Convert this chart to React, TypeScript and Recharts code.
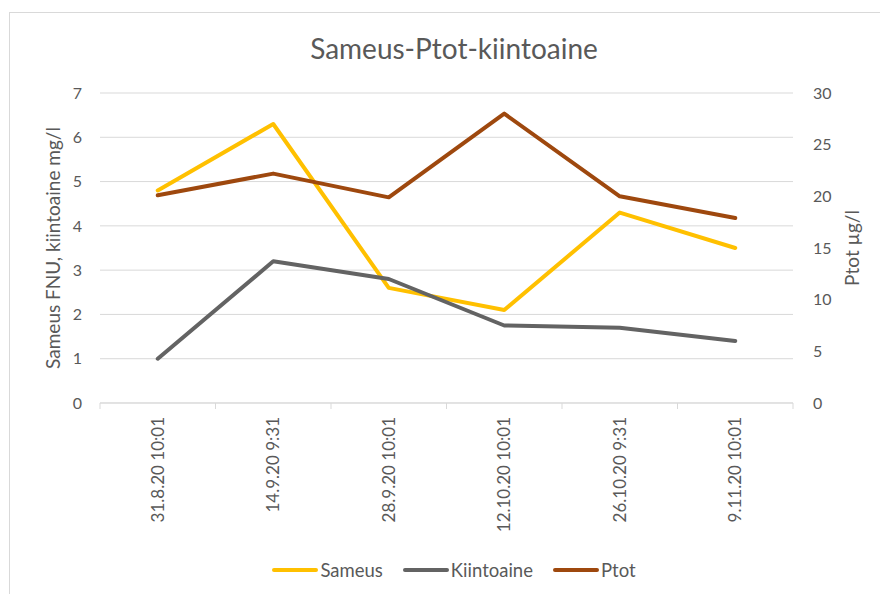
import React from "react";
import { LineChart, Line, XAxis, YAxis, CartesianGrid } from "recharts";

const dates = [
  "31.8.20 10:01",
  "14.9.20 9:31",
  "28.9.20 10:01",
  "12.10.20 10:01",
  "26.10.20 9:31",
  "9.11.20 10:01",
];
const sameus = [4.8, 6.3, 2.6, 2.1, 4.3, 3.5];
const kiintoaine = [1.0, 3.2, 2.8, 1.75, 1.7, 1.4];
const ptot = [20.1, 22.2, 19.9, 28.0, 20.0, 17.9];
const leftTicks = [0, 1, 2, 3, 4, 5, 6, 7];
const rightTicks = [0, 5, 10, 15, 20, 25, 30];

const series = [
  { key: "sameus", name: "Sameus", color: "#FFC000", axis: "left" },
  { key: "kiintoaine", name: "Kiintoaine", color: "#636363", axis: "left" },
  { key: "ptot", name: "Ptot", color: "#9E480E", axis: "right" },
];

const data = dates.map((d, i) => ({
  date: d,
  sameus: sameus[i],
  kiintoaine: kiintoaine[i],
  ptot: ptot[i],
}));

const FONT = "Lato, 'Open Sans', sans-serif";
const TEXT = "#595959";
const GRID = "#d9d9d9";

function DateTick(props: any) {
  const { x, y, payload, index } = props;
  const half = payload.offset || 57.5;
  return (
    <g>
      <line x1={x - half} x2={x - half} y1={y} y2={y + 6} stroke={GRID} />
      {index === dates.length - 1 && (
        <line x1={x + half} x2={x + half} y1={y} y2={y + 6} stroke={GRID} />
      )}
      <text
        transform={`translate(${x},${y + 14}) rotate(-90)`}
        textAnchor="end"
        dy="0.35em"
        fill={TEXT}
        fontSize={17}
        fontFamily={FONT}
      >
        {payload.value}
      </text>
    </g>
  );
}

export default function App() {
  return (
    <div
      style={{
        position: "fixed",
        left: 0,
        top: 0,
        width: 880,
        height: 594,
        overflow: "hidden",
        background: "#fff",
        fontFamily: FONT,
      }}
    >
      <div
        style={{
          position: "absolute",
          left: 9,
          top: 12,
          width: 880,
          height: 600,
          border: `1px solid ${GRID}`,
        }}
      >
        <div
          style={{
            position: "absolute",
            left: 0,
            top: 18,
            width: 888,
            textAlign: "center",
            fontSize: 28,
            lineHeight: "34px",
            color: TEXT,
          }}
        >
          Sameus-Ptot-kiintoaine
        </div>
        <LineChart
          width={871}
          height={581}
          data={data}
          margin={{ top: 80, right: 0, left: 0, bottom: 61 }}
        >
          <CartesianGrid yAxisId="left" vertical={false} stroke={GRID} />
          <XAxis
            dataKey="date"
            scale="band"
            height={130}
            interval={0}
            tickLine={false}
            tickSize={0}
            tickMargin={0}
            axisLine={{ stroke: GRID }}
            tick={<DateTick />}
          />
          <YAxis
            yAxisId="left"
            width={90}
            domain={[0, 7]}
            ticks={leftTicks}
            axisLine={false}
            tickLine={false}
            tickMargin={12}
            tick={{ fill: TEXT, fontSize: 16, fontFamily: FONT }}
            label={{
              value: "Sameus FNU, kiintoaine mg/l",
              angle: -90,
              position: "center",
              dx: -2,
              fill: TEXT,
              fontSize: 19,
              fontFamily: FONT,
            }}
          />
          <YAxis
            yAxisId="right"
            orientation="right"
            width={88}
            domain={[0, 30]}
            ticks={rightTicks}
            axisLine={false}
            tickLine={false}
            tickMargin={14}
            tick={{ fill: TEXT, fontSize: 16, fontFamily: FONT, textAnchor: "start" }}
            label={{
              value: "Ptot µg/l",
              angle: -90,
              position: "center",
              dx: 15,
              fill: TEXT,
              fontSize: 19,
              fontFamily: FONT,
            }}
          />
          {series.map((s) => (
            <Line
              key={s.key}
              yAxisId={s.axis}
              dataKey={s.key}
              name={s.name}
              stroke={s.color}
              strokeWidth={4}
              dot={false}
              activeDot={false}
              strokeLinecap="round"
              strokeLinejoin="round"
              isAnimationActive={false}
            />
          ))}
        </LineChart>
        <div
          style={{
            position: "absolute",
            left: 0,
            top: 544,
            width: 888,
            display: "flex",
            justifyContent: "center",
            gap: 20,
            fontSize: 18.5,
            lineHeight: "26px",
            color: TEXT,
          }}
        >
          {series.map((s) => (
            <div key={s.key} style={{ display: "flex", alignItems: "center" }}>
              <div
                style={{
                  width: 46,
                  height: 4,
                  borderRadius: 2,
                  background: s.color,
                  marginRight: 2,
                }}
              />
              <span>{s.name}</span>
            </div>
          ))}
        </div>
      </div>
    </div>
  );
}
